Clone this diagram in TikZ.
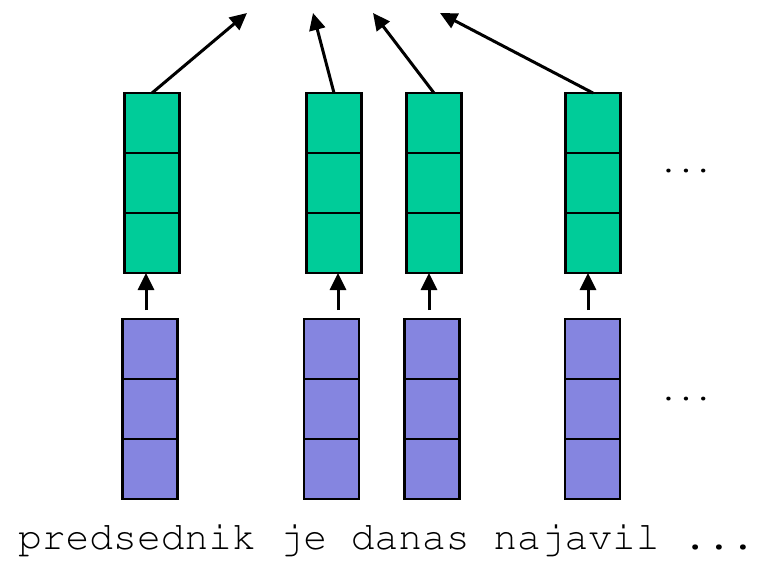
\documentclass[tikz,border=0pt]{standalone}
\usepackage[T1]{fontenc}
\usepackage{xcolor}
\usetikzlibrary{arrows.meta}
\usetikzlibrary{positioning}
\definecolor{cellgreen}{RGB}{0,204,153}
\definecolor{cellblue}{RGB}{133,133,224}
\newcommand{\wordfont}{\fontencoding{T1}\fontfamily{pcr}\selectfont}

\begin{document}
\begin{tikzpicture}[x=1pt,y=-1pt,on grid,node distance=60pt,
  cell/.style={draw,line width=2.5pt,minimum width=55pt,minimum height=60pt,inner sep=0pt,outer sep=0pt},
  gcell/.style={cell,fill=cellgreen},
  bcell/.style={cell,fill=cellblue},
  up/.style={line width=3pt,-{Triangle[length=17pt,width=16pt]}},
  dots/.style={font=\wordfont\fontsize{29}{29}\selectfont,inner sep=0pt,anchor=base}]

  \useasboundingbox (0,0) rectangle (757,560);

  % columns: number / green x / blue x / small arrow shift / top arrow end x
  \foreach \i/\gx/\bx/\ax/\tx in {1/152/150/-4/247,2/334/331.5/6.5/313,3/434/432/-3/373,4/593/592.5/-4.5/440}{
    % green (upper) column
    \node[gcell] (g\i a) at (\gx,123) {};
    \node[gcell,below=of g\i a] (g\i b) {};
    \node[gcell,below=of g\i b] (g\i c) {};

    % blue (lower) column
    \node[bcell] (b\i a) at (\bx,349) {};
    \node[bcell,below=of b\i a] (b\i b) {};
    \node[bcell,below=of b\i b] (b\i c) {};

    % blue -> green
    \draw[up] ([xshift=\ax pt,yshift=9pt]b\i a.north) coordinate (s\i) -- (s\i |- g\i c.south);

    % green -> up
    \coordinate (t\i) at (\tx,13);
    \draw[up] (g\i a.north) -- (t\i);
  }

  % more columns
  \node[dots] (gdots) at (686,172) {...};
  \node[dots] (bdots) at (686,400) {...};

  % words
  \node[font=\wordfont\fontsize{39.6}{39.6}\selectfont,inner sep=0pt,anchor=base west] (words) at (18,549)
    {predsednik je danas najavil ...};

\end{tikzpicture}
\end{document}
